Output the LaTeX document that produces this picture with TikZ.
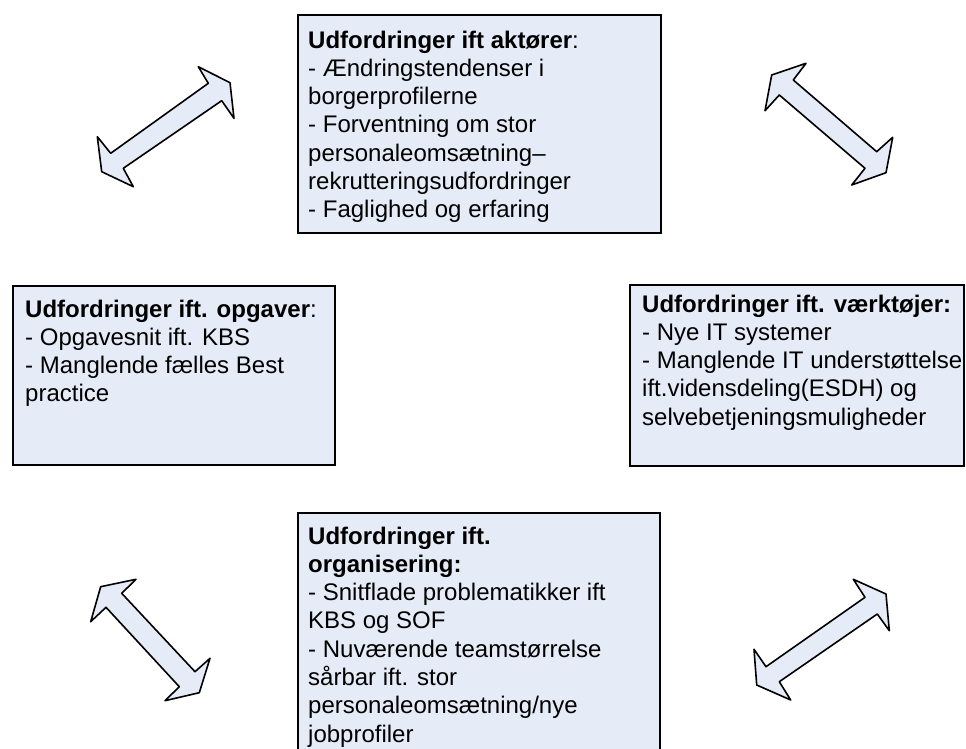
\documentclass[tikz,border=0pt]{standalone}
\usepackage{fontspec}
\setmainfont{Liberation Sans}
\definecolor{boxfill}{RGB}{230,236,247}
\begin{document}
\begin{tikzpicture}[x=1pt,y=-1pt,
  panel/.style={draw=black, line width=1.6pt, fill=boxfill, inner sep=0pt, anchor=north west},
  txt/.style={anchor=north west, inner sep=0pt, align=left,
    font=\fontsize{24}{28.3}\selectfont},
  dblarrow/.style={draw=black, line width=1.6pt, fill=boxfill, line join=round}]
\clip (0,0) rectangle (966,749);

% boxes
\node[panel, minimum width=363pt, minimum height=218pt] (akt) at (297,14) {};
\node[panel, minimum width=322pt, minimum height=179pt] (opg) at (12,285) {};
\node[panel, minimum width=334pt, minimum height=181pt] (vaerk) at (629,284) {};
\node[panel, minimum width=362pt, minimum height=260pt] (org) at (297,512) {};

% box texts (first baseline minus ascent)
\node[txt] (akttxt) at (308,30.5) {\textbf{Udfordringer ift aktører}:\\
- Ændringstendenser i\\
borgerprofilerne\\
- Forventning om stor\\
personaleomsætning–\\
rekrutteringsudfordringer\\
- Faglighed og erfaring};

\node[txt] (opgtxt) at (25,299.5) {\textbf{Udfordringer ift. opgaver}:\\
- Opgavesnit ift. KBS\\
- Manglende fælles Best\\
practice};

\node[txt] (vaerktxt) at (642,294.5) {\textbf{Udfordringer ift. værktøjer:}\\
- Nye IT systemer\\
- Manglende IT understøttelse\\
ift.vidensdeling(ESDH) og\\
selvebetjeningsmuligheder};

\node[txt] (orgtxt) at (308,526.5) {\textbf{Udfordringer ift.}\\
\textbf{organisering:}\\
- Snitflade problematikker ift\\
KBS og SOF\\
- Nuværende teamstørrelse\\
sårbar ift. stor\\
personaleomsætning/nye\\
jobprofiler};

% double-headed block arrows
\draw[dblarrow] (198.3,66.7) -- (230,82.7) -- (234,118.3) -- (221.7,100.7)
  -- (123.3,168.3) -- (133.3,186.7) -- (101.7,171.7) -- (97.3,136.7)
  -- (110.7,153.3) -- (208.3,83.3) -- cycle;
\draw[dblarrow] (806,63.3) -- (771.7,75) -- (765,110.7) -- (779.3,95)
  -- (865,168.3) -- (851.7,185) -- (886,172.7) -- (892.7,137.3)
  -- (876.7,151.7) -- (793.3,80) -- cycle;
\draw[dblarrow] (136,579.3) -- (100.7,586.7) -- (90.7,621.7) -- (106,607.3)
  -- (179.3,686.7) -- (165,700.7) -- (199.3,692.7) -- (210,658.3)
  -- (195,671.7) -- (121.7,593.3) -- cycle;
\draw[dblarrow] (853.3,579.3) -- (886,594) -- (889.3,630.7) -- (877.3,614)
  -- (779.3,681.7) -- (790.7,700) -- (756.7,685) -- (754,649.3)
  -- (766,666.7) -- (865,597.3) -- cycle;
\end{tikzpicture}
\end{document}
